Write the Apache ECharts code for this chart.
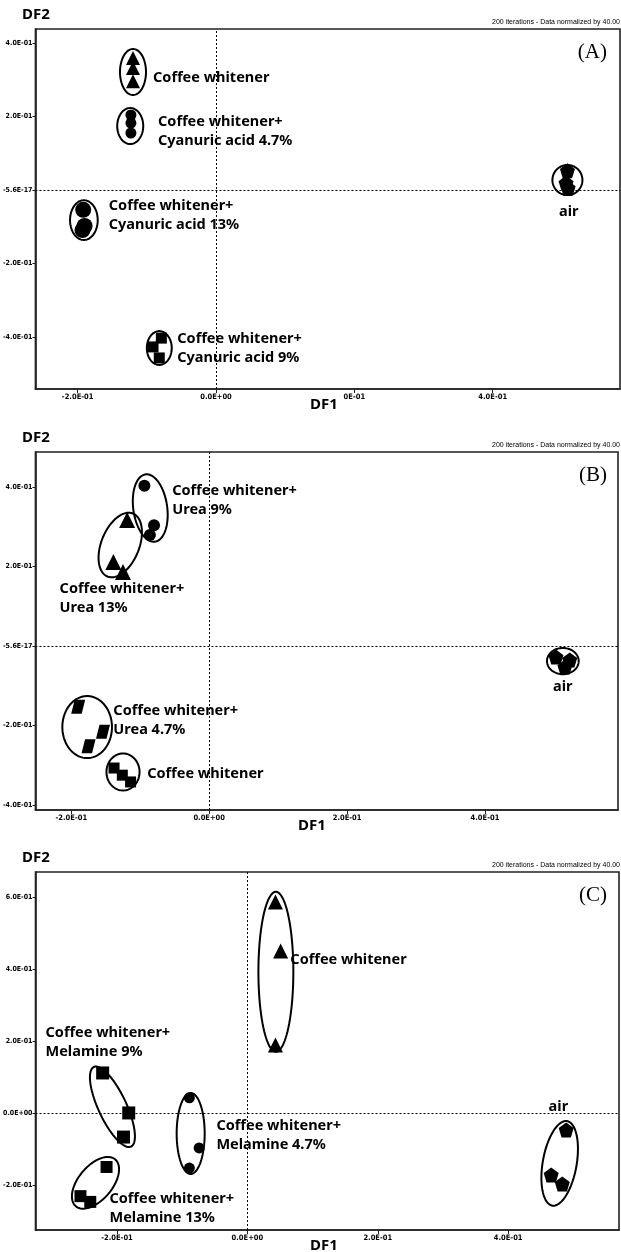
<!DOCTYPE html>
<html>
<head>
<meta charset="utf-8">
<script src="https://cdn.jsdelivr.net/npm/echarts@6/dist/echarts.min.js"></script>
<style>html,body{margin:0;padding:0;background:#fff}#c{width:621px;height:1252px}</style>
</head>
<body>
<div id="c"></div>
<script>
// ---------- Panel A (Cyanuric acid) ----------
const A_cw      = [[-0.120,0.359],[-0.120,0.332],[-0.120,0.296]];
const A_ca47    = [[-0.123,0.204],[-0.123,0.182],[-0.123,0.155]];
const A_ca13    = [[-0.192,-0.054],[-0.190,-0.098],[-0.193,-0.109]];
const A_ca9     = [[-0.079,-0.403],[-0.091,-0.427],[-0.082,-0.457]];
const A_air     = [[0.508,0.052],[0.506,0.019],[0.509,0.005]];
// ellipses: [cx, cy, rx, ry, tilt deg]
const A_ellipses = [[-0.120,0.321,0.0188,0.0626,0],[-0.124,0.174,0.0188,0.049,0],[-0.191,-0.082,0.020,0.054,0],[-0.082,-0.430,0.018,0.046,0],[0.508,0.027,0.0217,0.041,0]];
const A_labels = [
  {name:'Coffee whitener', value:[-0.091,0.305]},
  {name:'Coffee whitener+\nCyanuric acid 4.7%', value:[-0.0838,0.160]},
  {name:'Coffee whitener+\nCyanuric acid 13%', value:[-0.155,-0.068]},
  {name:'Coffee whitener+\nCyanuric acid 9%', value:[-0.056,-0.430]}
];
const A_airLabel = [{name:'air', value:[0.510,-0.060]}];
const A_xTicks = [-0.2,0,0.2,0.4];
const A_xTickLabels = ['-2.0E-01','0.0E+00','0E-01','4.0E-01'];
const A_yTicks = [0.4,0.2,0,-0.2,-0.4];
const A_yTickLabels = ['4.0E-01','2.0E-01','-5.6E-17','-2.0E-01','-4.0E-01'];

// ---------- Panel B (Urea) ----------
const B_u9      = [[-0.094,0.403],[-0.080,0.304],[-0.086,0.279]];
const B_u13     = [[-0.119,0.317],[-0.139,0.211],[-0.125,0.186]];
const B_u47     = [[-0.190,-0.153],[-0.154,-0.216],[-0.175,-0.252]];
const B_cw      = [[-0.138,-0.307],[-0.126,-0.325],[-0.114,-0.342]];
const B_air     = [[0.503,-0.028],[0.523,-0.035],[0.516,-0.053]];
const B_ellipses = [[-0.0855,0.347,0.0246,0.0855,-8],[-0.129,0.254,0.0275,0.0855,22],[-0.177,-0.204,0.036,0.078,0],[-0.125,-0.317,0.024,0.0465,0],[0.513,-0.038,0.023,0.033,0]];
const B_labels = [
  {name:'Coffee whitener+\nUrea 9%', value:[-0.0536,0.366]},
  {name:'Coffee whitener+\nUrea 13%', value:[-0.217,0.121]},
  {name:'Coffee whitener+\nUrea 4.7%', value:[-0.139,-0.186]},
  {name:'Coffee whitener', value:[-0.0899,-0.322]}
];
const B_airLabel = [{name:'air', value:[0.513,-0.103]}];
const B_xTicks = [-0.2,0,0.2,0.4];
const B_xTickLabels = ['-2.0E-01','0.0E+00','2.0E-01','4.0E-01'];
const B_yTicks = [0.4,0.2,0,-0.2,-0.4];
const B_yTickLabels = ['4.0E-01','2.0E-01','-5.6E-17','-2.0E-01','-4.0E-01'];

// ---------- Panel C (Melamine) ----------
const C_cw      = [[0.043,0.586],[0.051,0.450],[0.043,0.189]];
const C_m9      = [[-0.222,0.111],[-0.182,0.000],[-0.190,-0.067]];
const C_m47     = [[-0.089,0.042],[-0.074,-0.097],[-0.089,-0.153]];
const C_m13     = [[-0.216,-0.150],[-0.256,-0.231],[-0.241,-0.247]];
const C_air     = [[0.489,-0.047],[0.466,-0.172],[0.483,-0.197]];
const C_ellipses = [[0.0437,0.392,0.0268,0.222,0],[-0.207,0.017,0.0215,0.122,-25],[-0.087,-0.057,0.0215,0.1125,0],[-0.233,-0.194,0.026,0.085,40],[0.479,-0.140,0.026,0.119,10]];
const C_labels = [
  {name:'Coffee whitener', value:[0.0659,0.425]},
  {name:'Coffee whitener+\nMelamine 9%', value:[-0.3096,0.197]},
  {name:'Coffee whitener+\nMelamine 4.7%', value:[-0.0475,-0.061]},
  {name:'Coffee whitener+\nMelamine 13%', value:[-0.2115,-0.264]}
];
const C_airLabel = [{name:'air', value:[0.477,0.017]}];
const C_xTicks = [-0.2,0,0.2,0.4];
const C_xTickLabels = ['-2.0E-01','0.0E+00','2.0E-01','4.0E-01'];
const C_yTicks = [0.6,0.4,0.2,0,-0.2];
const C_yTickLabels = ['6.0E-01','4.0E-01','2.0E-01','0.0E+00','-2.0E-01'];

// ---------- build ----------
const SYM = {
  triangle: 'triangle',
  circle: 'circle',
  square: 'rect',
  para: 'path://M3,0 L12,0 L9,8 L0,8 Z',
  pentagon: 'path://M0,-10 L9.5,-3.1 L5.9,8.1 L-5.9,8.1 L-9.5,-3.1 Z'
};
const LABEL_FONT = '"Noto Sans", "Noto Sans CJK KR", sans-serif';
const TICK_FONT = '"Liberation Sans Narrow", "DejaVu Sans Condensed", sans-serif';

function renderEllipse(params, api) {
  const c = api.coord([api.value(0), api.value(1)]);
  const s = api.size([api.value(2), api.value(3)]);
  const a = api.value(4) * Math.PI / 180;
  const pts = [];
  for (let i = 0; i < 90; i++) {
    const t = i / 90 * Math.PI * 2;
    const x = s[0] * Math.cos(t), y = s[1] * Math.sin(t);
    pts.push([c[0] + x * Math.cos(a) - y * Math.sin(a), c[1] + x * Math.sin(a) + y * Math.cos(a)]);
  }
  return {type: 'polygon', shape: {points: pts}, style: {fill: 'none', stroke: '#000', lineWidth: 2}};
}

const panels = [
  {grid:{left:35, top:29, right:1, height:360}, xr:[-0.261,0.584], yr:[-0.5415,0.438],
   xt:A_xTicks, xl:A_xTickLabels, yt:A_yTicks, yl:A_yTickLabels,
   groups:[[A_cw,'triangle',14],[A_ca47,'circle',11],[A_ca13,'circle',16],[A_ca9,'square',11],[A_air,'pentagon',15]],
   ell:A_ellipses, labels:A_labels, air:A_airLabel},
  {grid:{left:35, top:452, right:3, height:358}, xr:[-0.252,0.593], yr:[-0.4126,0.488],
   xt:B_xTicks, xl:B_xTickLabels, yt:B_yTicks, yl:B_yTickLabels,
   groups:[[B_u9,'circle',12],[B_u13,'triangle',16],[B_u47,'para',14],[B_cw,'square',11],[B_air,'pentagon',15]],
   ell:B_ellipses, labels:B_labels, air:B_airLabel},
  {grid:{left:35, top:872, right:2, height:358}, xr:[-0.325,0.570], yr:[-0.325,0.669],
   xt:C_xTicks, xl:C_xTickLabels, yt:C_yTicks, yl:C_yTickLabels,
   groups:[[C_cw,'triangle',15],[C_m9,'square',13],[C_m47,'circle',11],[C_m13,'square',12],[C_air,'pentagon',15]],
   ell:C_ellipses, labels:C_labels, air:C_airLabel}
];

const option = {animation:false, backgroundColor:'#fff', grid:[], xAxis:[], yAxis:[], series:[], graphic:[]};
panels.forEach((p, i) => {
  option.grid.push(Object.assign({show:true, borderColor:'#222', borderWidth:1.6, backgroundColor:'#fff'}, p.grid));
  const axisCommon = {
    splitLine:{show:false},
    axisLine:{show:true, onZero:false, lineStyle:{color:'#222', width:1.6}},
  };
  option.xAxis.push(Object.assign({}, axisCommon, {
    gridIndex:i, type:'value', min:p.xr[0], max:p.xr[1],
    axisTick:{show:true, inside:false, length:4, customValues:p.xt, lineStyle:{color:'#222'}},
    axisLabel:{customValues:p.xt, margin:4, fontSize:7.5, fontWeight:'bold', fontFamily:TICK_FONT, color:'#000',
      formatter:(v) => { const k = p.xt.findIndex(t => Math.abs(t - v) < 1e-9); return k >= 0 ? p.xl[k] : ''; }}
  }));
  option.yAxis.push(Object.assign({}, axisCommon, {
    gridIndex:i, type:'value', min:p.yr[0], max:p.yr[1],
    axisTick:{show:true, inside:false, length:3, customValues:p.yt, lineStyle:{color:'#222'}},
    axisLabel:{customValues:p.yt, margin:3, fontSize:7, fontWeight:'bold', fontFamily:TICK_FONT, color:'#000',
      formatter:(v) => { const k = p.yt.findIndex(t => Math.abs(t - v) < 1e-9); return k >= 0 ? p.yl[k] : ''; }}
  }));
  // zero reference lines
  option.series.push({
    type:'scatter', xAxisIndex:i, yAxisIndex:i, data:[], silent:true,
    markLine:{silent:true, symbol:'none', label:{show:false}, animation:false,
      lineStyle:{type:[2,2], color:'#000', width:1, opacity:1},
      data:[{xAxis:0},{yAxis:0}]}
  });
  // ellipses
  option.series.push({
    type:'custom', xAxisIndex:i, yAxisIndex:i, data:p.ell, renderItem:renderEllipse,
    encode:{x:0, y:1}, silent:true, z:3
  });
  // markers
  p.groups.forEach(g => {
    option.series.push({
      type:'scatter', xAxisIndex:i, yAxisIndex:i, data:g[0], symbol:SYM[g[1]], symbolSize:g[2],
      itemStyle:{color:'#000', opacity:1, borderWidth:0}, silent:true, z:4
    });
  });
  // group labels
  option.series.push({
    type:'scatter', xAxisIndex:i, yAxisIndex:i, data:p.labels, symbolSize:0, silent:true, z:5,
    itemStyle:{opacity:1, color:'#000'},
    label:{show:true, position:'right', distance:0, formatter:'{b}', align:'left', verticalAlign:'middle',
      fontFamily:LABEL_FONT, fontWeight:'bold', fontSize:14.5, lineHeight:19, color:'#000'}
  });
  option.series.push({
    type:'scatter', xAxisIndex:i, yAxisIndex:i, data:p.air, symbolSize:0, silent:true, z:5,
    itemStyle:{opacity:1, color:'#000'},
    label:{show:true, position:'inside', formatter:'{b}', align:'center', verticalAlign:'middle',
      fontFamily:LABEL_FONT, fontWeight:'bold', fontSize:14.5, color:'#000'}
  });
});

// panel annotations
const tops = [29, 452, 872];
const bottoms = [389, 810, 1230];
const letters = ['(A)','(B)','(C)'];
const df1x = [324, 312, 324];
tops.forEach((t, i) => {
  option.graphic.push({type:'text', left:22, top:t-22, style:{text:'DF2', font:'bold 15px "Noto Sans", sans-serif', fill:'#000'}});
  option.graphic.push({type:'text', x:620, y:t-3, style:{text:'200 iterations - Data normalized by 40.00', font:'7px "Liberation Sans Narrow", sans-serif', fill:'#000', align:'right', verticalAlign:'bottom'}});
  option.graphic.push({type:'text', x:607, y:t+23, style:{text:letters[i], font:'21px "Liberation Serif", "Times New Roman", serif', fill:'#000', align:'right', verticalAlign:'middle'}});
  option.graphic.push({type:'text', x:df1x[i], y:bottoms[i]+16, style:{text:'DF1', font:'bold 15px "Noto Sans", sans-serif', fill:'#000', align:'center', verticalAlign:'middle'}});
});

const chart = echarts.init(document.getElementById('c'), null, {renderer:'canvas'});
chart.setOption(option);
</script>
</body>
</html>
